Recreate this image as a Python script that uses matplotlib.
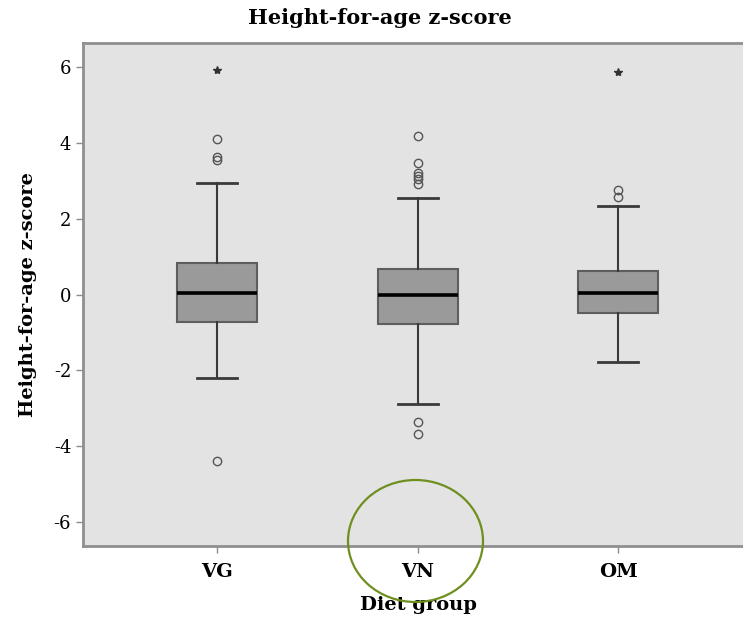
import matplotlib
matplotlib.use("Agg")
import matplotlib.pyplot as plt
from matplotlib.patches import Ellipse

plt.rcParams['font.family'] = ['DejaVu Serif', 'Liberation Serif']
plt.rcParams['axes.unicode_minus'] = False

groups = ["VG", "VN", "OM"]
medians = [0.05, 0.0, 0.05]
q1 = [-0.73, -0.77, -0.49]
q3 = [0.82, 0.67, 0.62]
whisk_lo = [-2.20, -2.88, -1.78]
whisk_hi = [2.94, 2.55, 2.33]
outliers = [[4.10, 3.63, 3.55, -4.38],
            [4.18, 3.47, 3.20, 3.12, 3.05, 2.92, -3.35, -3.67],
            [2.75, 2.57]]
extremes = [[5.92], [], [5.87]]
yticks = [-6, -4, -2, 0, 2, 4, 6]

W, H = 743, 621
fig = plt.figure(figsize=(W/100, H/100), dpi=100)
ax = fig.add_axes([83/W, 1-546/H, 1-83/W + 0.01, (546-43)/H])
ax.set_facecolor('#e3e3e3')

stats = []
for i, g in enumerate(groups):
    stats.append(dict(med=medians[i], q1=q1[i], q3=q3[i],
                      whislo=whisk_lo[i], whishi=whisk_hi[i],
                      fliers=outliers[i], label=g))
pos = [1, 2, 3]
ax.bxp(stats, positions=pos, widths=0.4, capwidths=0.2, patch_artist=True,
       boxprops=dict(facecolor='#9a9a9a', edgecolor='#5e5e5e', linewidth=1.5),
       medianprops=dict(color='black', linewidth=2.6),
       whiskerprops=dict(color='#3a3a3a', linewidth=1.5),
       capprops=dict(color='#3a3a3a', linewidth=2.0),
       flierprops=dict(marker='o', markerfacecolor='none', markeredgecolor='#555555',
                       markersize=6, markeredgewidth=1.0))
for p, ex in zip(pos, extremes):
    if ex:
        ax.plot([p]*len(ex), ex, marker='*', linestyle='none', color='#333333', markersize=6)

ax.set_xlim(0.33, 3.66)
ax.set_ylim(-6.63, 6.63)
ax.set_yticks(yticks)
ax.set_yticklabels([str(t) for t in yticks], fontsize=13)
ax.set_xticks(pos)
ax.set_xticklabels(groups, fontsize=14, fontweight='bold')
ax.tick_params(axis='both', direction='out', length=5, color='#8c8c8c', width=1)
ax.tick_params(axis='x', pad=7)
for s in ['left', 'bottom', 'top', 'right']:
    ax.spines[s].set_color('#8f8f8f')
    ax.spines[s].set_linewidth(2)

ax.set_ylabel('Height-for-age z-score', fontsize=14, fontweight='bold')
ax.yaxis.set_label_coords(-(83-28)/(W-83+7.4), 0.5)
ax.set_xlabel('Diet group', fontsize=14, fontweight='bold')
ax.xaxis.set_label_coords((418-83)/(W-83+7.4), -(605-546)/(546-43))
ax.xaxis.label.set_va('center')
ax.yaxis.label.set_va('center')
fig.text(380/W, 1-18/H, 'Height-for-age z-score', fontsize=15, fontweight='bold',
         ha='center', va='center')

ell = Ellipse((415.5/W, 1-541/H), 135/W, 122/H, transform=fig.transFigure,
              fill=False, edgecolor='#6f8f1f', linewidth=1.6)
fig.add_artist(ell)

fig.savefig('out.png', dpi=100)
